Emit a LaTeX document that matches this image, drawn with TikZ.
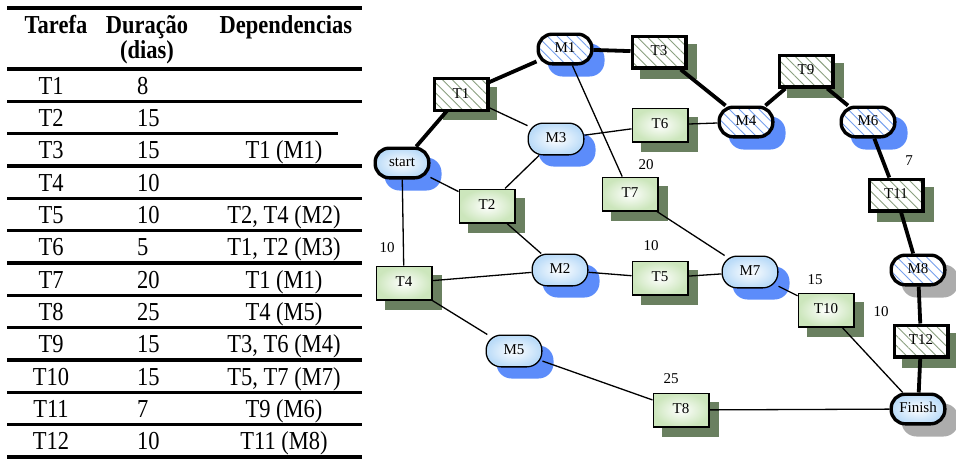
\documentclass[tikz,border=0pt]{standalone}
\usepackage{fontspec}
\setmainfont{Liberation Serif}
\usetikzlibrary{patterns.meta}

\pgfdeclarelayer{shadowlayer}
\pgfdeclarelayer{edgelayer}
\pgfsetlayers{shadowlayer,edgelayer,main}

\definecolor{taskshade}{RGB}{106,128,96}
\definecolor{mileshade}{RGB}{92,140,250}
\definecolor{greyshade}{RGB}{172,172,172}
\definecolor{taskfill}{RGB}{204,230,188}
\definecolor{milefill}{RGB}{186,219,248}
\definecolor{hatchgreen}{RGB}{138,160,128}
\definecolor{hatchblue}{RGB}{118,160,238}

% text set slightly taller than wide
\newcommand\stretched[1]{\scalebox{1}[1.15]{#1}}
\newcommand\tablefont{\fontsize{22.5}{27}\selectfont}
\newcommand\nodefont{\fontsize{15}{18}\selectfont}

\tikzset{
  cell/.style={anchor=base, inner sep=0pt, font=\tablefont},
  durcell/.style={cell, anchor=base west},
  headcell/.style={cell, font=\tablefont\bfseries},
  tablerule/.style={line width=3.3pt},
  toprule/.style={line width=4pt},
  boxbase/.style={rectangle, inner sep=0pt, font=\nodefont,
    text height=11.5pt, text depth=4pt},
  plaintask/.style={boxbase, minimum width=55.7pt, minimum height=33.7pt,
    draw, line width=1.3pt, inner color=white, outer color=taskfill},
  boldtask/.style={boxbase, minimum width=53.6pt, minimum height=31.6pt,
    draw, line width=3.4pt, preaction={fill=white},
    pattern={Lines[angle=-45,distance=7pt,line width=0.9pt]},
    pattern color=hatchgreen},
  plainmile/.style={boxbase, rounded corners=15pt,
    minimum width=55.7pt, minimum height=31.7pt,
    draw, line width=1.3pt, inner color=white, outer color=milefill},
  boldmile/.style={boxbase, rounded corners=14pt,
    minimum width=53.6pt, minimum height=29.6pt,
    draw, line width=3.4pt, inner color=white, outer color=milefill},
  hatchmile/.style={boxbase, rounded corners=14pt,
    minimum width=53.6pt, minimum height=29.6pt,
    draw, line width=3.4pt, preaction={fill=white},
    pattern={Lines[angle=-45,distance=7pt,line width=0.9pt]},
    pattern color=hatchblue},
  thinlink/.style={line width=1.3pt},
  thicklink/.style={line width=3.8pt},
  numlabel/.style={inner sep=0pt, font=\nodefont},
}

% one table row: index, task, duration
\newcommand\tablerow[3]{%
  \node[cell] (task#1) at (51, {69+32.33*(#1-0.5)+9}) {\stretched{#2}};
  \node[durcell] (dur#1) at (137, {69+32.33*(#1-0.5)+9}) {\stretched{#3}};
}
% dependency cell of a row
\newcommand\tabledep[2]{%
  \node[cell] (dep#1) at (284, {69+32.33*(#1-0.5)+9}) {\stretched{#2}};
}

\begin{document}
\begin{tikzpicture}[x=1pt,y=-1pt]
\useasboundingbox (0,0) rectangle (956,459);

% ---------- table ----------
\draw[toprule] (7,8) -- (362,8);
\node[headcell] (hTask) at (56,33) {\stretched{Tarefa}};
\node[headcell] (hDur) at (147,33) {\stretched{Duração}};
\node[headcell] (hDays) at (147,58) {\stretched{(dias)}};
\node[headcell] (hDep) at (286,33) {\stretched{Dependencias}};

\foreach \k in {0,1,3,4,5,6,7,8,9,10,11,12}
  \draw[tablerule] (7,{69+32.33*\k}) -- (362,{69+32.33*\k});
\draw[tablerule] (7,{69+32.33*2}) -- (338,{69+32.33*2});

\tablerow{1}{T1}{8}
\tablerow{2}{T2}{15}
\tablerow{3}{T3}{15}
\tablerow{4}{T4}{10}
\tablerow{5}{T5}{10}
\tablerow{6}{T6}{5}
\tablerow{7}{T7}{20}
\tablerow{8}{T8}{25}
\tablerow{9}{T9}{15}
\tablerow{10}{T10}{15}
\tablerow{11}{T11}{7}
\tablerow{12}{T12}{10}
\tabledep{3}{T1 (M1)}
\tabledep{5}{T2, T4 (M2)}
\tabledep{6}{T1, T2 (M3)}
\tabledep{7}{T1 (M1)}
\tabledep{8}{T4 (M5)}
\tabledep{9}{T3, T6 (M4)}
\tabledep{10}{T5, T7 (M7)}
\tabledep{11}{T9 (M6)}
\tabledep{12}{T11 (M8)}

% ---------- network ----------
\node[boldmile]  (start)  at (402,163) {start};
\node[boldtask]  (T1)     at (461,94.5) {T1};
\node[hatchmile] (M1)     at (565,49) {M1};
\node[boldtask]  (T3)     at (659,52) {T3};
\node[plainmile] (M3)     at (556,139) {M3};
\node[plaintask] (T2)     at (487,206) {T2};
\node[plaintask] (T6)     at (660,125) {T6};
\node[hatchmile] (M4)     at (746,122) {M4};
\node[plaintask] (T7)     at (630,194) {T7};
\node[boldtask]  (T9)     at (806,71) {T9};
\node[hatchmile] (M6)     at (868,122) {M6};
\node[boldtask]  (T11)    at (896,195) {T11};
\node[hatchmile] (M8)     at (918,270) {M8};
\node[plaintask] (T4)     at (404,283) {T4};
\node[plainmile] (M2)     at (560,270) {M2};
\node[plaintask] (T5)     at (660,278) {T5};
\node[plainmile] (M5)     at (514,351) {M5};
\node[plaintask] (T8)     at (681,410) {T8};
\node[plainmile] (M7)     at (750,272) {M7};
\node[plaintask] (T10)    at (826,310) {T10};
\node[boldtask]  (T12)    at (921,341) {T12};
\node[boldmile]  (Finish) at (918,409) {Finish};

% durations written above the tasks
\node[numlabel] (d4)  at (387,248) {10};
\node[numlabel] (d7)  at (646,165) {20};
\node[numlabel] (d5)  at (651,246) {10};
\node[numlabel] (d10) at (815,280) {15};
\node[numlabel] (d12) at (881,312) {10};
\node[numlabel] (d8)  at (671,379) {25};
\node[numlabel] (d11) at (909,161) {7};

% drop shadows
\begin{pgfonlayer}{shadowlayer}
  \foreach \n in {T1,T2,T3,T4,T5,T6,T7,T8,T9,T10,T11,T12}
    \fill[taskshade] ([shift={(9,9)}]\n.south west)
                     rectangle ([shift={(9,9)}]\n.north east);
  \foreach \n in {start,M1,M2,M3,M4,M5,M6,M7}
    \fill[mileshade, rounded corners=15pt] ([shift={(11,11)}]\n.south west)
                     rectangle ([shift={(11,11)}]\n.north east);
  \foreach \n in {M8,Finish}
    \fill[greyshade, rounded corners=15pt] ([shift={(12,11)}]\n.south west)
                     rectangle ([shift={(12,11)}]\n.north east);
\end{pgfonlayer}

% dependency links
\begin{pgfonlayer}{edgelayer}
  \draw[thicklink] (start) -- (T1);
  \draw[thicklink] (T1) -- (M1);
  \draw[thicklink] (M1) -- (T3);
  \draw[thicklink] (T3) -- (M4);
  \draw[thicklink] (M4) -- (T9);
  \draw[thicklink] (T9) -- (M6);
  \draw[thicklink] (M6) -- (T11);
  \draw[thicklink] (T11) -- (M8);
  \draw[thicklink] (M8) -- (T12);
  \draw[thicklink] (T12) -- (Finish);
  \draw[thinlink] (start) -- (T2);
  \draw[thinlink] (start) -- (T4);
  \draw[thinlink] (T1) -- (M3);
  \draw[thinlink] (T2) -- (M3);
  \draw[thinlink] (T2) -- (M2);
  \draw[thinlink] (T4) -- (M2);
  \draw[thinlink] (T4) -- (M5);
  \draw[thinlink] (M1) -- (T7);
  \draw[thinlink] (M3) -- (T6);
  \draw[thinlink] (T6) -- (M4);
  \draw[thinlink] (M2) -- (T5);
  \draw[thinlink] (T5) -- (M7);
  \draw[thinlink] (T7) -- (M7);
  \draw[thinlink] (M7) -- (T10);
  \draw[thinlink] (T10) -- (Finish);
  \draw[thinlink] (M5) -- (T8);
  \draw[thinlink] (T8) -- (Finish);
\end{pgfonlayer}
\end{tikzpicture}
\end{document}
